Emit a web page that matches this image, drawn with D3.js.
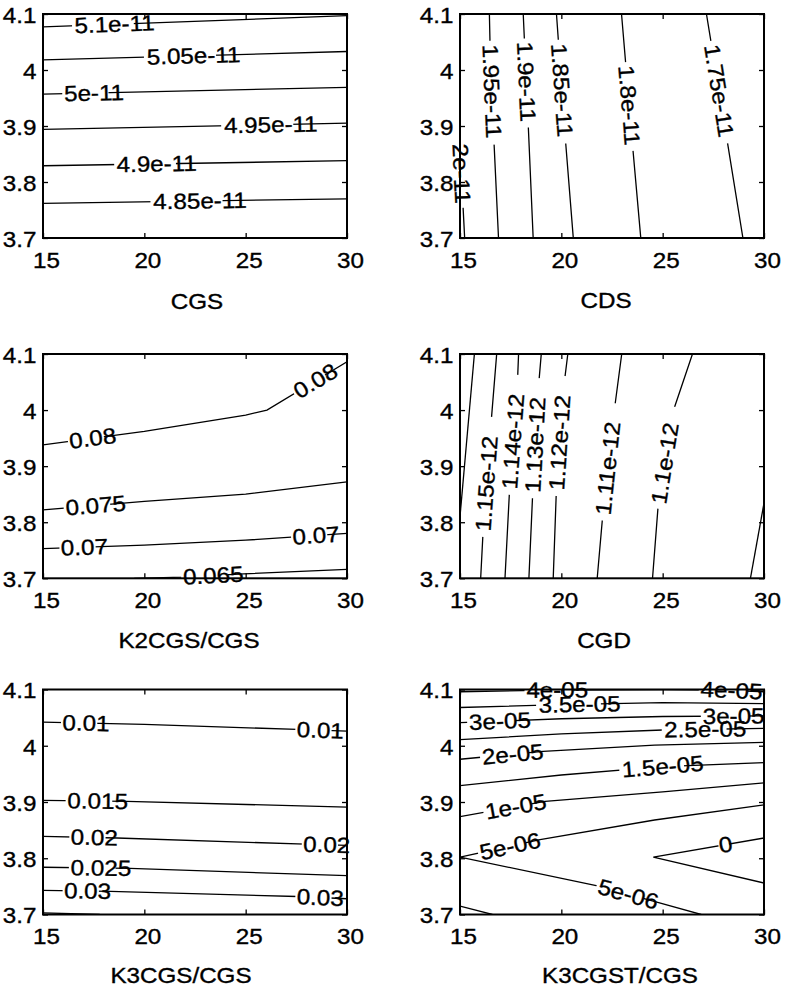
<!DOCTYPE html>
<html><head><meta charset="utf-8">
<script src="https://cdn.jsdelivr.net/npm/d3@7"></script>
<style>
body{margin:0;background:#fff;}
svg text{font-family:"Liberation Sans",Arial,Helvetica,sans-serif;fill:#000;stroke:#000;stroke-width:0.35px;}
</style></head><body>
<svg id="chart" width="786" height="989"></svg>
<script>
// ---------- data ----------
const xDomain = [15, 30];
const yDomain = [3.7, 4.1];
const xTicks = [15, 20, 25, 30];
const yTicks = [3.7, 3.8, 3.9, 4.0, 4.1];

const cgsLevels = ["5.1e-11","5.05e-11","5e-11","4.95e-11","4.9e-11","4.85e-11"];
const cgsLines = [
  [[15,4.077],[30,4.097]],
  [[15,4.018],[30,4.033]],
  [[15,3.957],[30,3.969]],
  [[15,3.894],[30,3.905]],
  [[15,3.829],[30,3.838]],
  [[15,3.762],[30,3.770]]
];
const cgsLabels = [[0,18.53],[1,22.43],[2,17.52],[3,26.24],[4,20.61],[5,22.75]];

const cdsLevels = ["2e-11","1.95e-11","1.9e-11","1.85e-11","1.8e-11","1.75e-11"];
const cdsLines = [
  [[15,3.87],[15.15,3.756],[15.23,3.7]],
  [[16.45,4.1],[16.48,4.049],[16.68,3.869],[16.9,3.7]],
  [[18.12,4.1],[18.37,3.899],[18.61,3.7]],
  [[19.76,4.1],[20.21,3.872],[20.59,3.7]],
  [[22.97,4.1],[23.54,3.855],[23.92,3.7]],
  [[27.16,4.1],[28.19,3.872],[28.96,3.7]]
];
const cdsLabels = [[0,3.815],[1,3.962],[2,3.979],[3,3.964],[4,3.937],[5,3.963]];

const k2Levels = ["0.08","0.075","0.07","0.065"];
const k2Lines = [
  [[15,3.938],[20,3.962],[25,3.991],[26.05,4.0],[30,4.086]],
  [[15,3.822],[20,3.837],[25,3.850],[30,3.872]],
  [[15,3.753],[20,3.759],[25,3.768],[30,3.780]],
  [[19.5,3.7],[21.9,3.702],[24.9,3.708],[30,3.716]]
];
const k2Labels = [[0,17.45],[0,28.44],[1,17.6],[2,17.04],[2,28.47],[3,23.4]];

const cgdLevels = ["1.16e-12","1.15e-12","1.14e-12","1.13e-12","1.12e-12","1.11e-12","1.1e-12","1.09e-12"];
const cgdLines = [
  [[15,3.810],[15.71,4.1]],
  [[16.02,3.7],[16.15,3.791],[16.51,3.967],[16.81,4.1]],
  [[17.22,3.7],[17.46,3.868],[17.83,4.045],[17.89,4.1]],
  [[18.40,3.7],[18.58,3.846],[18.86,4.036],[19.01,4.1]],
  [[19.60,3.7],[19.75,3.852],[20.09,4.033],[20.32,4.1]],
  [[21.77,3.7],[22.03,3.807],[22.56,3.985],[22.98,4.1]],
  [[24.50,3.7],[24.78,3.831],[25.51,3.997],[26.47,4.1]],
  [[29.33,3.7],[30,3.834]]
];
const cgdLabels = [[1,3.869],[2,3.944],[3,3.938],[4,3.942],[5,3.896],[6,3.905]];

const k3Levels = ["0.01","0.015","0.02","0.025","0.03","0.035"];
const k3Lines = [
  [[15,4.042],[20,4.038],[27.53,4.029],[30,4.026]],
  [[15,3.903],[19.14,3.901],[30,3.891]],
  [[15,3.839],[18.65,3.836],[27.94,3.825],[30,3.823]],
  [[15,3.784],[19.3,3.782],[30,3.769]],
  [[15,3.743],[18.32,3.741],[27.53,3.732],[30,3.728]],
  [[15,3.703],[17.8,3.7]]
];
const k3Labels = [[0,17.12],[0,28.68],[1,17.7],[2,17.53],[2,29.0],[3,17.86],[4,17.2],[4,28.68]];

const k3tLevels = ["4e-05","3.5e-05","3e-05","2.5e-05","2e-05","1.5e-05","1e-05","5e-06","5e-06","0","1e-05"];
const k3tLines = [
  [[15,4.096],[19.5,4.099],[25,4.1],[28,4.099],[30,4.096]],
  [[15,4.068],[20,4.073],[25,4.0765],[30,4.075]],
  [[15,4.041],[20,4.048],[25,4.052],[30,4.053]],
  [[15,4.011],[20,4.021],[25,4.028],[30,4.031]],
  [[15,3.976],[19.1,3.990],[24.6,4.001],[30,4.006]],
  [[15,3.929],[20,3.948],[25,3.963],[30,3.970]],
  [[15,3.874],[19.2,3.901],[25,3.918],[30,3.934]],
  [[15,3.802],[18.95,3.833],[24.6,3.868],[30,3.895]],
  [[15,3.802],[21.9,3.750],[24.8,3.721],[26.9,3.7]],
  [[30,3.836],[24.54,3.802],[30,3.756]],
  [[15,3.715],[16.6,3.7]]
];
const k3tLabels = [[0,19.8],[0,28.4],[1,20.9],[2,16.97],[2,28.5],[3,27.1],[4,17.6],[5,25.0],[6,17.75],[7,17.47],[8,23.3],[9,28.1]];

// ---------- layout ----------
const cols = [[43,347],[460,764]];
const rows = [[14,238],[354,578.3],[689.5,914.5]];
const panels = [
  {name:"CGS",        levels:cgsLevels, lines:cgsLines, labels:cgsLabels, orient:"h", col:0,row:0, gap:[-0.03,0.74], xl:[2,71]},
  {name:"CDS",        levels:cdsLevels, lines:cdsLines, labels:cdsLabels, orient:"v", col:1,row:0, gap:[-0.04,1.07], xl:[-6,70]},
  {name:"K2CGS/CGS",  levels:k2Levels,  lines:k2Lines,  labels:k2Labels,  orient:"h", col:0,row:1, gap:[-0.03,0.74], xl:[-6,70]},
  {name:"CGD",        levels:cgdLevels, lines:cgdLines, labels:cgdLabels, orient:"v", col:1,row:1, gap:[-0.06,1.2],  xl:[-8,70]},
  {name:"K3CGS/CGS",  levels:k3Levels,  lines:k3Lines,  labels:k3Labels,  orient:"h", col:0,row:2, gap:[-0.03,0.74], xl:[-14,68.5]},
  {name:"K3CGST/CGS", levels:k3tLevels, lines:k3tLines, labels:k3tLabels, orient:"h", col:1,row:2, gap:[-0.03,0.76], xl:[8,68.5]}
];

const SX = 1.1, FS = 22;
const svg = d3.select("#chart");
const defs = svg.append("defs");
const fmtY = d => String(parseFloat((+d).toFixed(1)));

panels.forEach((p, pi) => {
  const [x0, x1] = cols[p.col], [y0, y1] = rows[p.row];
  const xs = d3.scaleLinear().domain(xDomain).range([x0, x1]);
  const ys = d3.scaleLinear().domain(yDomain).range([y1, y0]);
  const g = svg.append("g");

  const mask = defs.append("mask").attr("id", "m" + pi)
    .attr("maskUnits", "userSpaceOnUse").attr("x", 0).attr("y", 0).attr("width", 786).attr("height", 989);
  mask.append("rect").attr("width", 786).attr("height", 989).attr("fill", "white");
  defs.append("clipPath").attr("id", "c" + pi).append("rect")
    .attr("x", x0).attr("y", y0).attr("width", x1 - x0).attr("height", y1 - y0);

  const line = d3.line().x(d => xs(d[0])).y(d => ys(d[1]));
  g.append("g").attr("clip-path", `url(#c${pi})`)
    .append("g").attr("mask", `url(#m${pi})`)
    .selectAll("path").data(p.lines).join("path")
    .attr("d", line).attr("fill", "none").attr("stroke", "#000").attr("stroke-width", 1.3);

  // axes (ticks inward on all four sides)
  const ax = g.append("g");
  const axB = ax.append("g").attr("transform", `translate(0,${y1})`)
    .call(d3.axisBottom(xs).tickValues(xTicks).tickSizeInner(-5).tickSizeOuter(0).tickPadding(14).tickFormat(d3.format("d")));
  ax.append("g").attr("transform", `translate(0,${y0})`)
    .call(d3.axisTop(xs).tickValues(xTicks).tickSizeInner(-5).tickSizeOuter(0).tickFormat(() => ""));
  const axL = ax.append("g").attr("transform", `translate(${x0},0)`)
    .call(d3.axisLeft(ys).tickValues(yTicks).tickSizeInner(-5).tickSizeOuter(0).tickPadding(6).tickFormat(fmtY));
  ax.append("g").attr("transform", `translate(${x1},0)`)
    .call(d3.axisRight(ys).tickValues(yTicks).tickSizeInner(-5).tickSizeOuter(0).tickFormat(() => ""));
  ax.selectAll(".domain").remove();
  ax.selectAll(".tick line").attr("stroke", "#000").attr("stroke-width", 1.3);
  ax.selectAll(".tick text").attr("font-size", FS).attr("font-family", null).attr("fill", "#000");
  axB.selectAll(".tick text").attr("dx", 3 / SX).attr("transform", `scale(${SX},1)`);
  axL.selectAll(".tick text").attr("dy", "0.38em").attr("transform", `scale(${SX},1)`);
  g.append("rect").attr("x", x0).attr("y", y0).attr("width", x1 - x0).attr("height", y1 - y0)
    .attr("fill", "none").attr("stroke", "#000").attr("stroke-width", 2);

  // x label
  g.append("text")
    .attr("transform", `translate(${(x0 + x1) / 2 + p.xl[0]},${y1 + p.xl[1]}) scale(${SX},1)`)
    .attr("text-anchor", "middle").attr("font-size", FS).text(p.name);

  // contour labels
  const k = p.orient === "h" ? 0 : 1;
  p.labels.forEach(([li, along]) => {
    const pts = p.lines[li].map(d => [xs(d[0]), ys(d[1])]);
    const target = k === 0 ? xs(along) : ys(along);
    let pos = null, ang = 0;
    for (let i = 0; i < pts.length - 1; i++) {
      const a = pts[i], b = pts[i + 1];
      const lo = Math.min(a[k], b[k]), hi = Math.max(a[k], b[k]);
      if (hi > lo && target >= lo && target <= hi) {
        const t = (target - a[k]) / (b[k] - a[k]);
        pos = [a[0] + t * (b[0] - a[0]), a[1] + t * (b[1] - a[1])];
        ang = Math.atan2(b[1] - a[1], b[0] - a[0]) * 180 / Math.PI;
        break;
      }
    }
    if (!pos) return;
    if (ang > 90) ang -= 180;
    if (ang <= -90) ang += 180;
    const t = g.append("text")
      .attr("transform", `translate(${pos[0]},${pos[1]}) rotate(${ang}) scale(${SX},1)`)
      .attr("text-anchor", "middle").attr("dominant-baseline", "central")
      .attr("font-size", FS).text(p.levels[li]);
    const w = t.node().getComputedTextLength() * SX;
    mask.append("rect")
      .attr("transform", `translate(${pos[0]},${pos[1]}) rotate(${ang})`)
      .attr("x", -w / 2 + p.gap[0] * w).attr("y", -4)
      .attr("width", (p.gap[1] - p.gap[0]) * w).attr("height", 8)
      .attr("fill", "black");
  });
});
</script>
</body></html>
